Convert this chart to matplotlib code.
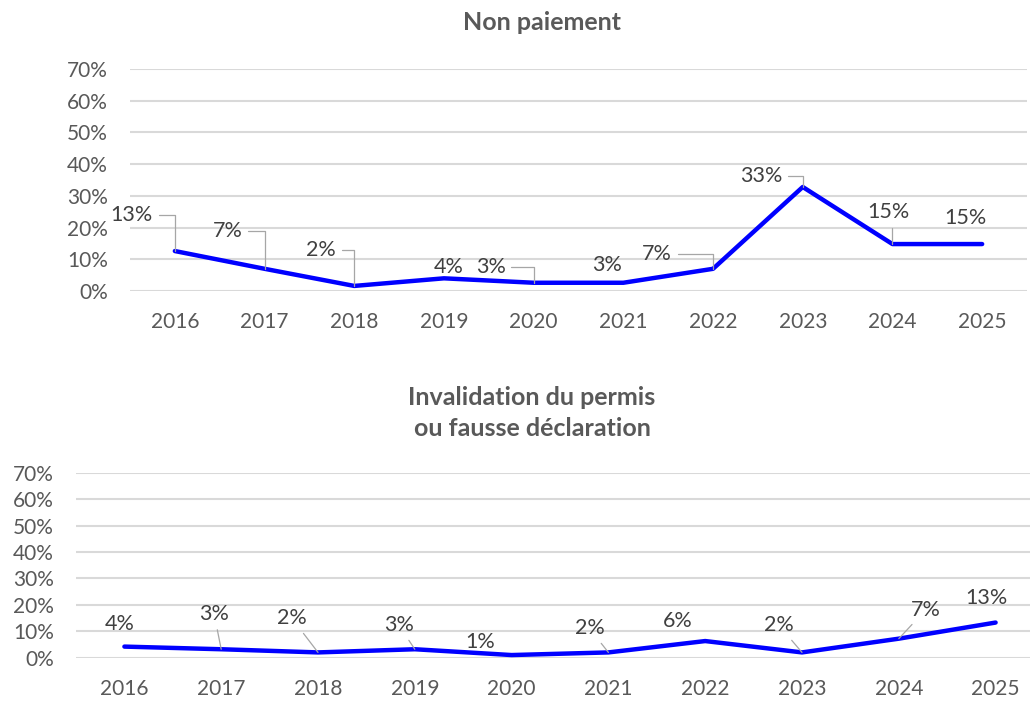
import numpy as np
import matplotlib.pyplot as plt
from matplotlib.ticker import PercentFormatter

plt.rcParams['font.family'] = ['Lato', 'DejaVu Sans']

years = ['2016', '2017', '2018', '2019', '2020', '2021', '2022', '2023', '2024', '2025']

# Non paiement (en %)
non_paiement = [12.6, 7.0, 1.6, 4.0, 2.6, 2.6, 7.0, 32.8, 14.8, 14.8]
non_paiement_lbl = ['13%', '7%', '2%', '4%', '3%', '3%', '7%', '33%', '15%', '15%']

# Invalidation du permis ou fausse declaration (en %)
invalidation = [4.2, 3.2, 2.0, 3.2, 1.0, 2.0, 6.3, 2.0, 7.2, 13.3]
invalidation_lbl = ['4%', '3%', '2%', '3%', '1%', '2%', '6%', '2%', '7%', '13%']

# decalage des etiquettes (pixels) et trait de rappel
off_top = [(-43, 36), (-37, 38), (-33, 36), (5, 11), (-43, 16),
           (-16, 18), (-56, 15), (-41, 11), (-4, 32), (-17, 26)]
lead_top = [1, 1, 1, 0, 1, 0, 1, 1, 1, 0]
off_bot = [(-5, 23), (-7, 35), (-26, 34), (-16, 24), (-31, 13),
           (-19, 24), (-27, 20), (-23, 27), (27, 29), (-9, 25)]
lead_bot = [0, 1, 1, 1, 0, 1, 0, 1, 1, 0]

grey_txt = '#595959'
lbl_col = '#404040'
lead_col = '#A6A6A6'
grid_col = '#D9D9D9'


def draw(ax, vals, lbls, offs, leads, conn):
    x = np.arange(len(years))
    ax.plot(x, vals, color='#0000FF', lw=3.2, solid_capstyle='round', zorder=3)
    for i in range(len(vals)):
        props = None
        if leads[i]:
            props = dict(arrowstyle='-', color=lead_col, lw=0.9,
                         connectionstyle=conn, shrinkA=2, shrinkB=0)
        ax.annotate(lbls[i], (x[i], vals[i]), xytext=offs[i],
                    textcoords='offset pixels', ha='center', va='center',
                    fontsize=15.5, color=lbl_col, arrowprops=props, zorder=4)
    ax.set_xlim(-0.5, len(years) - 0.5)
    ax.set_ylim(0, 70)
    ax.set_yticks(np.arange(0, 71, 10))
    ax.yaxis.set_major_formatter(PercentFormatter(decimals=0))
    ax.set_xticks(x)
    ax.set_xticklabels(years)
    ax.grid(axis='y', color=grid_col, lw=1.5)
    ax.set_axisbelow(True)
    for s in ax.spines.values():
        s.set_visible(False)
    ax.tick_params(axis='both', length=0, labelsize=15, labelcolor=grey_txt)
    ax.tick_params(axis='y', pad=16)
    ax.tick_params(axis='x', pad=15)


fig = plt.figure(figsize=(10.3, 7.02), dpi=100)

ax1 = fig.add_axes([130 / 1030, 1 - 291 / 702, 897 / 1030, 222 / 702])
draw(ax1, non_paiement, non_paiement_lbl, off_top, lead_top,
     'angle,angleA=0,angleB=90,rad=0')

ax2 = fig.add_axes([76 / 1030, 1 - 657.7 / 702, 968 / 1030, 185 / 702])
draw(ax2, invalidation, invalidation_lbl, off_bot, lead_bot, 'arc3')

fig.text(542 / 1030, 1 - 22 / 702, 'Non paiement', ha='center', va='center',
         fontsize=18, fontweight='bold', color=grey_txt)
fig.text(532 / 1030, 1 - 413 / 702, 'Invalidation du permis\nou fausse déclaration',
         ha='center', va='center', fontsize=18, fontweight='bold',
         color=grey_txt, linespacing=1.45)

fig.savefig('out.png', dpi=100)
